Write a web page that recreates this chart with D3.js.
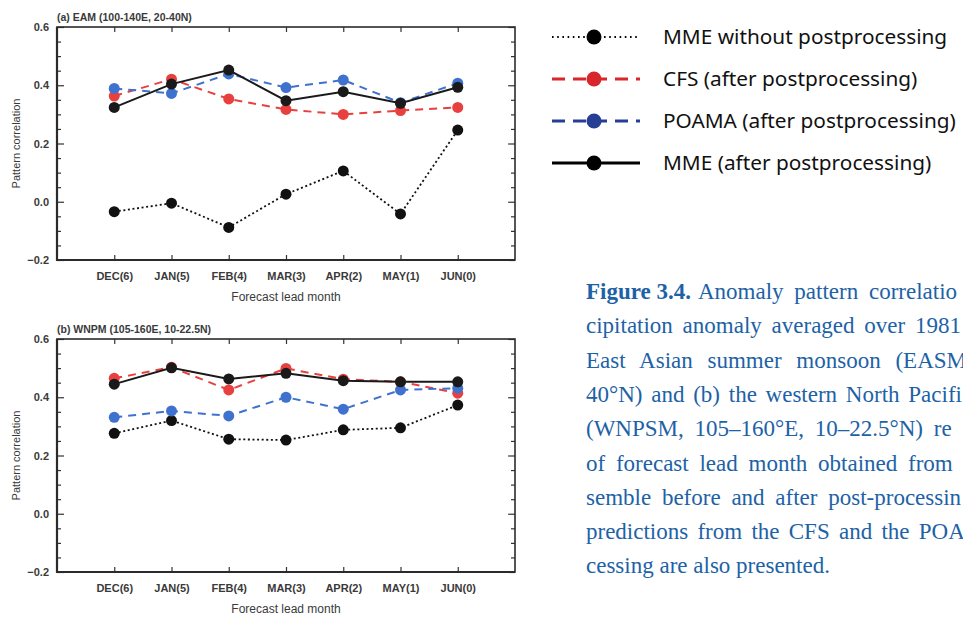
<!DOCTYPE html>
<html>
<head>
<meta charset="utf-8">
<script src="https://cdn.jsdelivr.net/npm/d3@7"></script>
<style>
  body { margin: 0; background: #fff; }
  svg { display: block; }
</style>
</head>
<body>
<div id="chart"></div>
<script>
const width = 963;
const height = 618;

const months = ["DEC(6)", "JAN(5)", "FEB(4)", "MAR(3)", "APR(2)", "MAY(1)", "JUN(0)"];
const yTicks = [-0.2, 0.0, 0.2, 0.4, 0.6];

// (a) EAM
const eamRaw = [-0.034, -0.005, -0.088, 0.026, 0.106, -0.042, 0.246];
const eamCfs = [0.363, 0.421, 0.353, 0.317, 0.300, 0.313, 0.324];
const eamPoama = [0.389, 0.372, 0.439, 0.392, 0.418, 0.340, 0.407];
const eamMme = [0.324, 0.404, 0.452, 0.347, 0.378, 0.338, 0.393];

// (b) WNPM
const wnpmRaw = [0.276, 0.320, 0.256, 0.253, 0.288, 0.295, 0.373];
const wnpmCfs = [0.465, 0.503, 0.425, 0.499, 0.462, 0.453, 0.414];
const wnpmPoama = [0.331, 0.353, 0.336, 0.400, 0.359, 0.425, 0.431];
const wnpmMme = [0.445, 0.501, 0.463, 0.482, 0.457, 0.453, 0.453];

const legendLabels = [
  "MME without postprocessing",
  "CFS (after postprocessing)",
  "POAMA (after postprocessing)",
  "MME (after postprocessing)",
];

// caption as visible in the figure (it runs past the right edge of the page)
const captionBold = "Figure 3.4.";
const captionLines = [
  "Anomaly pattern correlatio",
  "cipitation anomaly averaged over 1981",
  "East Asian summer monsoon (EASM",
  "40°N) and (b) the western North Pacifi",
  "(WNPSM, 105–160°E, 10–22.5°N) re",
  "of forecast lead month obtained from t",
  "semble before and after post-processin",
  "predictions from the CFS and the POA",
  "cessing are also presented.",
];
const captionWordSpacing = [5, 4, 9, 3, 5, 5, 5, 3.5, 0];

const styles = [
  { color: "#111", dash: "2,2.6", width: 1.8, legColor: "#000", legDash: "1.6,3.6", legWidth: 2 },
  { color: "#e8403f", dash: "8,6", width: 2, legColor: "#d9262d", legDash: "13,8", legWidth: 3 },
  { color: "#3f72cf", dash: "8,6", width: 2, legColor: "#263f95", legDash: "13,8", legWidth: 3 },
  { color: "#1a1a1a", dash: null, width: 2, legColor: "#000", legDash: null, legWidth: 3 },
];

const panels = [
  { title: "(a) EAM (100-140E, 20-40N)", top: 27, series: [eamRaw, eamCfs, eamPoama, eamMme] },
  { title: "(b) WNPM (105-160E, 10-22.5N)", top: 339, series: [wnpmRaw, wnpmCfs, wnpmPoama, wnpmMme] },
];

const svg = d3
  .select("#chart")
  .append("svg")
  .attr("width", width)
  .attr("height", height);

const left = 57;
const right = 515;
const plotH = 233;
const axisFont = "Liberation Sans, Arial, sans-serif";
const textGrey = "#3a3a3a";

const x = d3.scalePoint().domain(months).range([left, right]).padding(1);

panels.forEach((p) => {
  const y = d3.scaleLinear().domain([-0.2, 0.6]).range([p.top + plotH, p.top]);
  const g = svg.append("g");

  const minor = d3.range(-0.2, 0.6001, 0.05).filter((v) => Math.abs(Math.round(v * 5) - v * 5) > 0.01);

  // left axis, major + minor ticks pointing inward
  g.append("g")
    .attr("transform", `translate(${left},0)`)
    .call(d3.axisLeft(y).tickValues(yTicks).tickSize(-7).tickPadding(8).tickFormat(d3.format(".1f")))
    .call((a) => a.select(".domain").remove());
  g.append("g")
    .attr("transform", `translate(${left},0)`)
    .call(d3.axisLeft(y).tickValues(minor).tickSize(-4).tickFormat(""))
    .call((a) => a.select(".domain").remove());
  // right axis mirror
  g.append("g")
    .attr("transform", `translate(${right},0)`)
    .call(d3.axisRight(y).tickValues(yTicks).tickSize(-7).tickFormat(""))
    .call((a) => a.select(".domain").remove());
  g.append("g")
    .attr("transform", `translate(${right},0)`)
    .call(d3.axisRight(y).tickValues(minor).tickSize(-4).tickFormat(""))
    .call((a) => a.select(".domain").remove());
  // bottom axis with labels
  g.append("g")
    .attr("transform", `translate(0,${p.top + plotH})`)
    .call(d3.axisBottom(x).tickSize(-5).tickPadding(12))
    .call((a) => a.select(".domain").remove());
  // top axis ticks
  g.append("g")
    .attr("transform", `translate(0,${p.top})`)
    .call(d3.axisTop(x).tickSize(-5).tickFormat(""))
    .call((a) => a.select(".domain").remove());

  g.selectAll(".tick line").attr("stroke", "#333").attr("stroke-width", 1.2);
  g.selectAll(".tick text")
    .attr("font-family", axisFont)
    .attr("font-size", 11)
    .attr("font-weight", "bold")
    .attr("fill", textGrey);

  // frame
  g.append("rect")
    .attr("x", left)
    .attr("y", p.top)
    .attr("width", right - left)
    .attr("height", plotH)
    .attr("fill", "none")
    .attr("stroke", "#2b2b2b")
    .attr("stroke-width", 1.6);
  g.append("path")
    .attr("d", `M${left},${p.top} V${p.top + plotH} H${right}`)
    .attr("fill", "none")
    .attr("stroke", "#2b2b2b")
    .attr("stroke-width", 2.2);

  g.append("text")
    .attr("x", left)
    .attr("y", p.top - 6)
    .attr("font-family", axisFont)
    .attr("font-size", 10.5)
    .attr("font-weight", "bold")
    .attr("fill", textGrey)
    .text(p.title);

  g.append("text")
    .attr("x", (left + right) / 2)
    .attr("y", p.top + plotH + 41)
    .attr("text-anchor", "middle")
    .attr("font-family", axisFont)
    .attr("font-size", 12)
    .attr("fill", textGrey)
    .text("Forecast lead month");

  g.append("text")
    .attr("transform", `translate(20,${p.top + plotH / 2}) rotate(-90)`)
    .attr("text-anchor", "middle")
    .attr("font-family", axisFont)
    .attr("font-size", 11)
    .attr("fill", textGrey)
    .text("Pattern correlation");

  const line = d3
    .line()
    .x((d, i) => x(months[i]))
    .y((d) => y(d));

  p.series.forEach((vals, si) => {
    const s = styles[si];
    g.append("path")
      .datum(vals)
      .attr("d", line)
      .attr("fill", "none")
      .attr("stroke", s.color)
      .attr("stroke-width", s.width)
      .attr("stroke-dasharray", s.dash);
    g.append("g")
      .selectAll("circle")
      .data(vals)
      .join("circle")
      .attr("cx", (d, i) => x(months[i]))
      .attr("cy", (d) => y(d))
      .attr("r", 5.5)
      .attr("fill", s.color);
  });
});

// legend
const legend = svg.append("g").attr("transform", "translate(552,37)");
legendLabels.forEach((lab, i) => {
  const s = styles[i];
  const row = legend.append("g").attr("transform", `translate(0,${i * 42})`);
  row.append("line")
    .attr("x1", 0)
    .attr("x2", 88)
    .attr("stroke", s.legColor)
    .attr("stroke-width", s.legWidth)
    .attr("stroke-dasharray", s.legDash);
  row.append("circle").attr("cx", 42).attr("r", 7.5).attr("fill", s.legColor);
  row.append("text")
    .attr("x", 111)
    .attr("dy", "0.35em")
    .attr("font-family", "Noto Sans, sans-serif")
    .attr("font-size", 20.8)
    .attr("fill", "#111")
    .text(lab);
});

// caption
const caption = svg
  .append("text")
  .attr("font-family", "Liberation Serif, Times New Roman, serif")
  .attr("font-size", 23)
  .attr("fill", "#1d62a6");
captionLines.forEach((ln, i) => {
  const t = caption
    .append("tspan")
    .attr("x", 586)
    .attr("y", 299 + i * 34.3)
    .attr("word-spacing", i === 0 ? 0 : captionWordSpacing[i]);
  if (i === 0) {
    t.append("tspan").attr("font-weight", "bold").text(captionBold);
    t.append("tspan")
      .attr("dx", 7)
      .attr("word-spacing", captionWordSpacing[0])
      .text(ln);
  } else {
    t.text(ln);
  }
});
</script>
</body>
</html>
